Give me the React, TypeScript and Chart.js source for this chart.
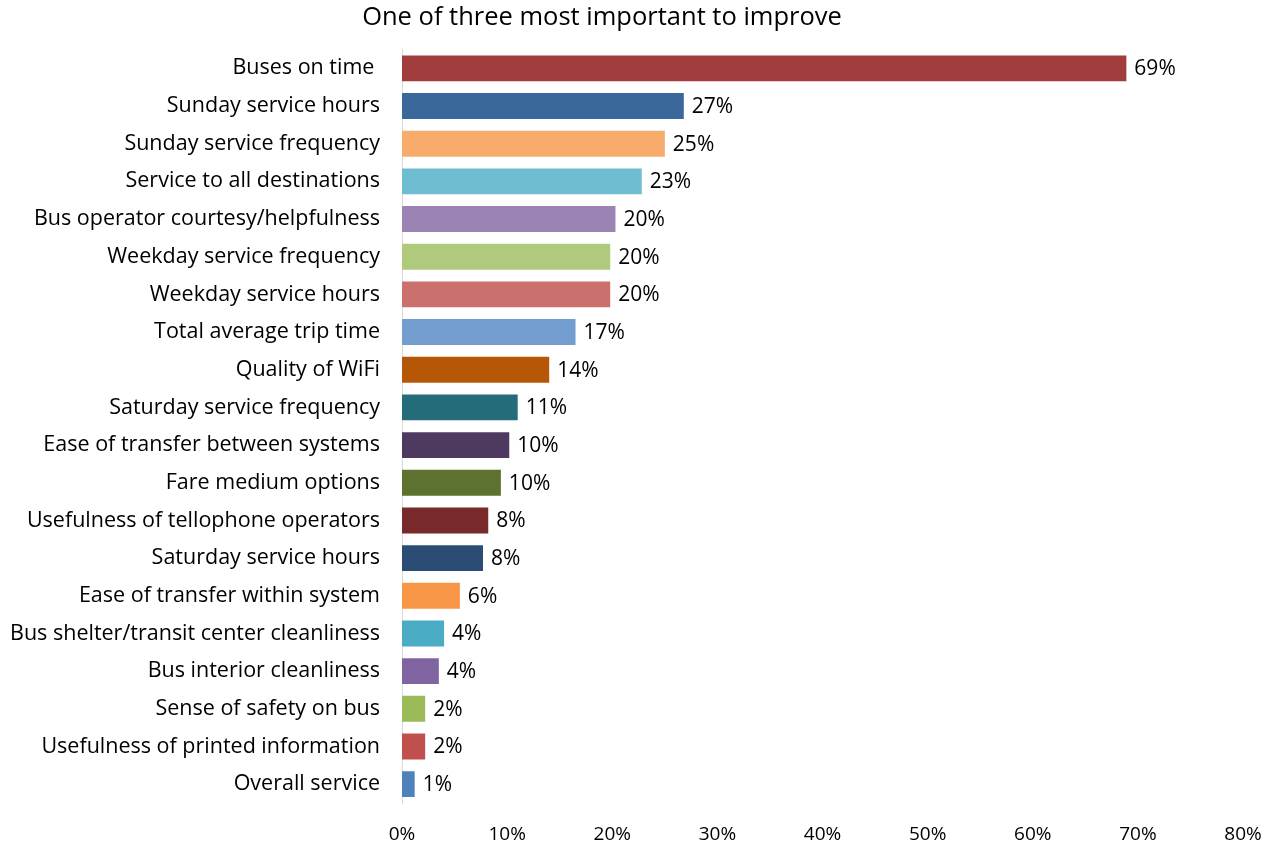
import React, { useEffect, useRef } from "react";
import { Chart, registerables } from "chart.js";

Chart.register(...registerables);

const TITLE = "One of three most important to improve";

const categories = [
  "Buses on time ",
  "Sunday service hours",
  "Sunday service frequency",
  "Service to all destinations",
  "Bus operator courtesy/helpfulness",
  "Weekday service frequency",
  "Weekday service hours",
  "Total average trip time",
  "Quality of WiFi",
  "Saturday service frequency",
  "Ease of transfer between systems",
  "Fare medium options",
  "Usefulness of tellophone operators",
  "Saturday service hours",
  "Ease of transfer within system",
  "Bus shelter/transit center cleanliness",
  "Bus interior cleanliness",
  "Sense of safety on bus",
  "Usefulness of printed information",
  "Overall service",
];

const values = [
  69.0, 26.9, 25.1, 22.9, 20.4, 19.9, 19.9, 16.6, 14.1, 11.1,
  10.3, 9.5, 8.3, 7.8, 5.6, 4.1, 3.6, 2.3, 2.3, 1.3,
];

const valueLabels = [
  "69%", "27%", "25%", "23%", "20%", "20%", "20%", "17%", "14%", "11%",
  "10%", "10%", "8%", "8%", "6%", "4%", "4%", "2%", "2%", "1%",
];

const barColors = [
  "#A03C3B", "#3A689B", "#F8AC6B", "#6EBDD0", "#9B84B4",
  "#AFCA7C", "#CC706E", "#739DCF", "#B65707", "#256C7B",
  "#4E3A61", "#5E722F", "#772A29", "#2B4C74", "#F79646",
  "#4BACC6", "#8064A2", "#9BBB59", "#C0504D", "#4F81BD",
];

const xTicks = [0, 10, 20, 30, 40, 50, 60, 70, 80];

const FONT = "'Open Sans', Lato, sans-serif";

const valueLabelPlugin = {
  id: "valueLabels",
  afterDatasetsDraw(chart: any) {
    const { ctx } = chart;
    const meta = chart.getDatasetMeta(0);
    ctx.save();
    ctx.font = `21px ${FONT}`;
    ctx.fillStyle = "#000000";
    ctx.textAlign = "left";
    ctx.textBaseline = "middle";
    meta.data.forEach((bar: any, i: number) => {
      ctx.fillText(valueLabels[i], bar.x + 7, bar.y + 1);
    });
    ctx.restore();
  },
};

const titlePlugin = {
  id: "customTitle",
  afterDraw(chart: any) {
    const { ctx } = chart;
    ctx.save();
    ctx.font = `25.5px ${FONT}`;
    ctx.fillStyle = "#000000";
    ctx.textAlign = "center";
    ctx.textBaseline = "middle";
    ctx.fillText(TITLE, 602, 18);
    ctx.restore();
  },
};

export default function App() {
  const canvasRef = useRef<HTMLCanvasElement | null>(null);

  useEffect(() => {
    if (!canvasRef.current) return;
    const chart = new Chart(canvasRef.current, {
      type: "bar",
      data: {
        labels: categories,
        datasets: [
          {
            data: values,
            backgroundColor: barColors,
            borderColor: "rgba(255,255,255,0.35)",
            borderWidth: 1,
            barPercentage: 0.74,
            categoryPercentage: 1,
          },
        ],
      },
      plugins: [valueLabelPlugin, titlePlugin],
      options: {
        indexAxis: "y",
        animation: false,
        responsive: true,
        maintainAspectRatio: false,
        layout: { padding: { left: 0, right: 35, top: 49.5, bottom: 0 } },
        plugins: {
          legend: { display: false },
          tooltip: { enabled: false },
          title: { display: false },
        },
        scales: {
          x: {
            min: 0,
            max: 80,
            afterBuildTicks(scale: any) {
              scale.ticks = xTicks.map((v) => ({ value: v }));
            },
            afterFit(scale: any) {
              scale.height = 44;
              scale.paddingLeft = 0;
              scale.paddingRight = 0;
            },
            grid: { display: false, drawTicks: false },
            border: { display: false },
            ticks: {
              color: "#000000",
              font: { family: FONT, size: 19 },
              padding: 20,
              maxRotation: 0,
              callback: (v: any) => `${v}%`,
            },
          },
          y: {
            afterFit(scale: any) {
              scale.width = 402;
              scale.paddingTop = 0;
              scale.paddingBottom = 0;
            },
            grid: { display: false, drawTicks: false },
            border: { display: true, color: "#D9D9D9", width: 1 },
            ticks: {
              color: "#000000",
              font: { family: FONT, size: 21.5 },
              padding: 22,
              autoSkip: false,
            },
          },
        },
      },
    });
    return () => chart.destroy();
  }, []);

  return (
    <div style={{ position: "fixed", left: 0, top: 0, width: 1278, height: 847, background: "#ffffff" }}>
      <canvas ref={canvasRef} />
    </div>
  );
}
